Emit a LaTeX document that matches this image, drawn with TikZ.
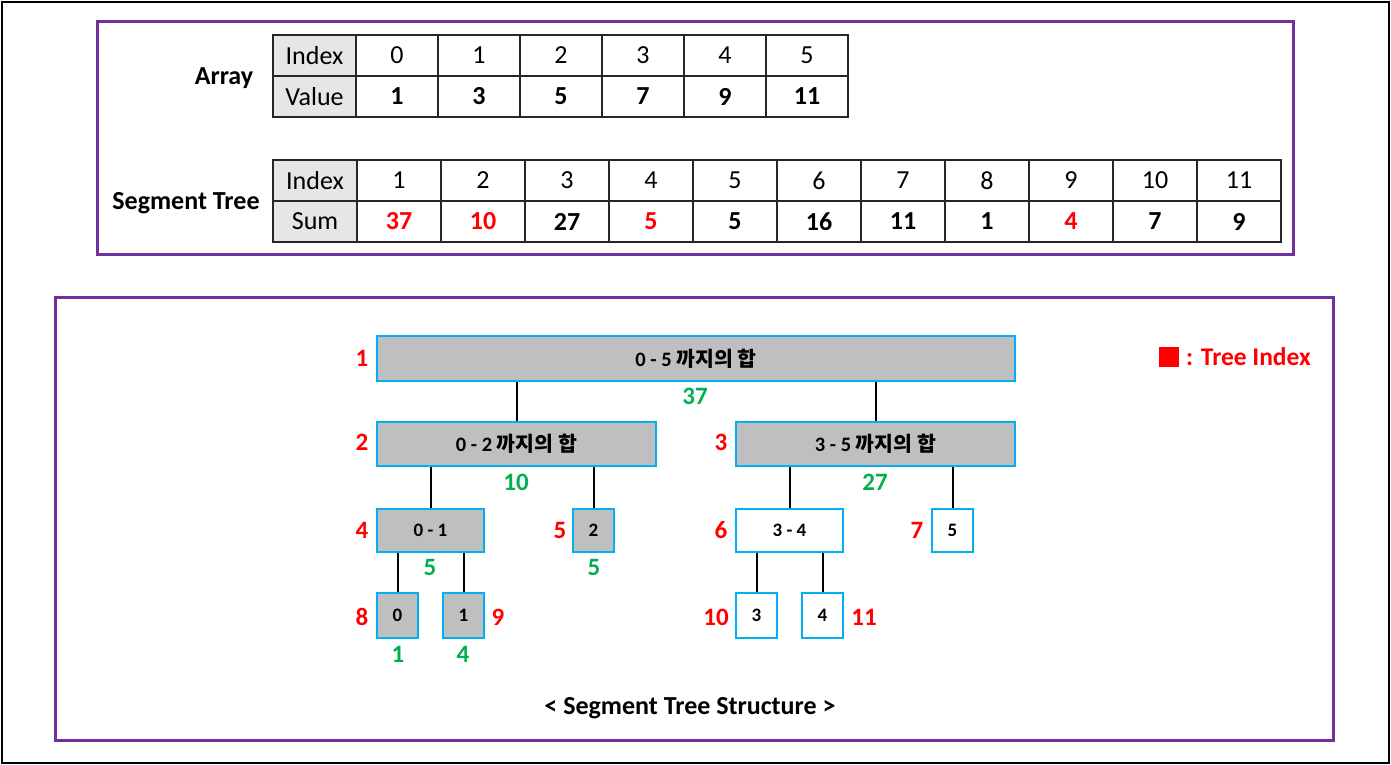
\documentclass[tikz,border=0pt]{standalone}
\usepackage{fontspec}
\setmainfont{Carlito}
\newfontfamily\kr{Noto Sans CJK KR}
\definecolor{purp}{HTML}{7030A0}
\definecolor{sky}{HTML}{00B0F0}
\definecolor{grn}{HTML}{00B050}
\definecolor{nodegray}{HTML}{BFBFBF}
\definecolor{hdrgray}{HTML}{E6E6E6}
\tikzset{
  frame/.style={draw=purp,line width=3pt},
  cell/.style={draw=black!85,line width=1.2pt,inner sep=0pt,minimum height=41pt,font=\fontsize{26}{30}\selectfont},
  hdr/.style={cell,fill=hdrgray},
  tlabel/.style={font=\fontsize{26}{30}\selectfont\bfseries},
  tnode/.style={draw=sky,line width=2pt,fill=nodegray,inner sep=0pt,font=\fontsize{20.5}{24}\selectfont\bfseries},
  wnode/.style={tnode,fill=white},
  snode/.style={font=\fontsize{19}{22}\selectfont\bfseries},
  idx/.style={text=red,font=\fontsize{25}{29}\selectfont\bfseries,inner sep=0pt},
  sumlbl/.style={text=grn,font=\fontsize{25}{29}\selectfont\bfseries,inner sep=0pt},
  link/.style={line width=2pt,black}
}
\begin{document}
\begin{tikzpicture}[x=1pt,y=-1pt]
\useasboundingbox (0,0) rectangle (1391,765);
\draw[line width=2pt] (2,2) rectangle (1389,763);
\draw[frame] (97,22) rectangle (1293,254);
\draw[frame] (55,297) rectangle (1333,740);

% Array table
\node[tlabel] (arrlbl) at (224,78) {Array};
\node[hdr,minimum width=83pt] (ai) at (314.5,55.5) {Index};
\node[hdr,minimum width=83pt] (av) at (314.5,96.5) {Value};
\foreach \v [count=\i from 0] in {1,3,5,7,9,11}{
  \node[cell,minimum width=82pt] (ai\i) at ({397+82*\i},55.5) {\i};
  \node[cell,minimum width=82pt,font=\fontsize{26}{30}\selectfont\bfseries] (av\i) at ({397+82*\i},96.5) {\v};
}

% Segment tree table
\node[tlabel] (seglbl) at (186,203) {Segment Tree};
\node[hdr,minimum width=84pt] (si) at (315,180.5) {Index};
\node[hdr,minimum width=84pt] (ss) at (315,221.5) {Sum};
\foreach \v/\c [count=\i from 1] in {37/red,10/red,27/black,5/red,5/black,16/black,11/black,1/black,4/red,7/black,9/black}{
  \node[cell,minimum width=84pt] (si\i) at ({399+84*(\i-1)},180.5) {\i};
  \node[cell,minimum width=84pt,text=\c,font=\fontsize{26}{30}\selectfont\bfseries] (ss\i) at ({399+84*(\i-1)},221.5) {\v};
}

% Tree
\node[tnode,minimum width=638pt,minimum height=45pt] (n1) at (696,358.5) {0 - 5 {\kr 까지의 합}};
\node[tnode,minimum width=279pt,minimum height=44pt] (n2) at (516.5,444) {0 - 2 {\kr 까지의 합}};
\node[tnode,minimum width=279pt,minimum height=44pt] (n3) at (875.5,444) {3 - 5 {\kr 까지의 합}};
\node[tnode,snode,minimum width=107pt,minimum height=43pt] (n4) at (430.5,530.5) {0 - 1};
\node[tnode,snode,minimum width=41pt,minimum height=43pt] (n5) at (593.5,530.5) {2};
\node[wnode,snode,minimum width=107pt,minimum height=43pt] (n6) at (789.5,530.5) {3 - 4};
\node[wnode,snode,minimum width=41pt,minimum height=43pt] (n7) at (952.5,530.5) {5};
\node[tnode,snode,minimum width=41pt,minimum height=45pt] (n8) at (397.5,615.5) {0};
\node[tnode,snode,minimum width=41pt,minimum height=45pt] (n9) at (463.5,615.5) {1};
\node[wnode,snode,minimum width=41pt,minimum height=45pt] (n10) at (756.5,615.5) {3};
\node[wnode,snode,minimum width=41pt,minimum height=45pt] (n11) at (822.5,615.5) {4};

\foreach \p/\c in {n1/n2,n1/n3,n2/n4,n2/n5,n3/n6,n3/n7,n4/n8,n4/n9,n6/n10,n6/n11}{
  \draw[link] (\p.south -| \c.north) -- (\c.north);
}

% index labels
\node[idx] (l1) at (362,358) {1};
\node[idx] (l2) at (362,442) {2};
\node[idx] (l3) at (721,442) {3};
\node[idx] (l4) at (362,530) {4};
\node[idx] (l5) at (560,530) {5};
\node[idx] (l6) at (721,530) {6};
\node[idx] (l7) at (917,530) {7};
\node[idx] (l8) at (362,617) {8};
\node[idx] (l9) at (498,617) {9};
\node[idx] (l10) at (716,617) {10};
\node[idx] (l11) at (864,617) {11};

% sum labels
\node[sumlbl] (g1) at (695,396) {37};
\node[sumlbl] (g2) at (516,482) {10};
\node[sumlbl] (g3) at (875,482) {27};
\node[sumlbl] (g4) at (430,567) {5};
\node[sumlbl] (g5) at (594,567) {5};
\node[sumlbl] (g8) at (398,654) {1};
\node[sumlbl] (g9) at (463,654) {4};

% legend
\node[fill=red,minimum size=20pt,inner sep=0pt] (legsq) at (1168.5,357) {};
\node[text=red,font=\fontsize{25.5}{29}\selectfont\bfseries,anchor=west,inner sep=0pt] (legtxt) at (1186,357) {: Tree Index};

\node[font=\fontsize{26}{30}\selectfont\bfseries] (title) at (690,708) {< Segment Tree Structure >};
\end{tikzpicture}
\end{document}
